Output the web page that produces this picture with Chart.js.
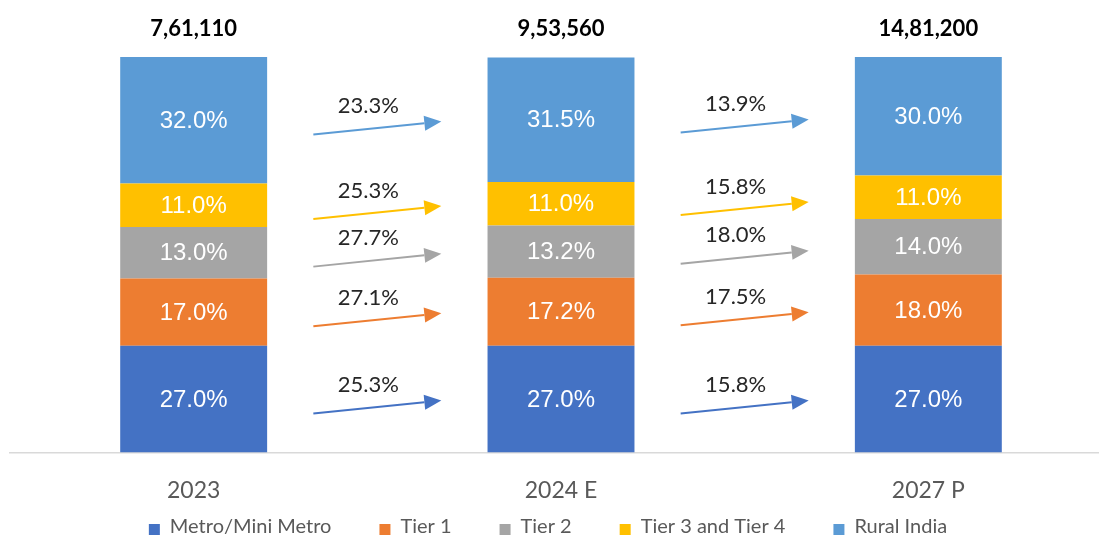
<!DOCTYPE html>
<html>
<head>
<meta charset="utf-8">
<script src="https://cdn.jsdelivr.net/npm/chart.js@4.4.1/dist/chart.umd.min.js"></script>
<style>
  html, body { margin: 0; padding: 0; background: #fff; overflow: hidden; }
  #wrap { position: relative; width: 1120px; height: 537px; }
</style>
</head>
<body>
<div id="wrap"><canvas id="graficoShare"></canvas></div>
<script>
// categories and totals
const years = ['2023', '2024 E', '2027 P'];
const totals = ['7,61,110', '9,53,560', '14,81,200'];

// share of each city class (%), bottom to top
const metro = [27.0, 27.0, 27.0];
const tier1 = [17.0, 17.2, 18.0];
const tier2 = [13.0, 13.2, 14.0];
const tier34 = [11.0, 11.0, 11.0];
const rural = [32.0, 31.5, 30.0];

// growth between consecutive years (%)
const growthMetro = [25.3, 15.8];
const growthTier1 = [27.1, 17.5];
const growthTier2 = [27.7, 18.0];
const growthTier34 = [25.3, 15.8];
const growthRural = [23.3, 13.9];

const series = [
  { label: 'Metro/Mini Metro', data: metro, growth: growthMetro, color: '#4472C4' },
  { label: 'Tier 1', data: tier1, growth: growthTier1, color: '#ED7D31' },
  { label: 'Tier 2', data: tier2, growth: growthTier2, color: '#A5A5A5' },
  { label: 'Tier 3 and Tier 4', data: tier34, growth: growthTier34, color: '#FFC000' },
  { label: 'Rural India', data: rural, growth: growthRural, color: '#5B9BD5' }
];

// labels inside segments, totals on top, growth arrows between bars
const overlay = {
  id: 'overlay',
  afterDatasetsDraw(chart) {
    const ctx = chart.ctx;
    ctx.save();
    ctx.textAlign = 'center';
    ctx.textBaseline = 'middle';

    ctx.font = '24px "Liberation Sans"';
    ctx.fillStyle = '#ffffff';
    chart.data.datasets.forEach((ds, i) => {
      chart.getDatasetMeta(i).data.forEach((bar, j) => {
        ctx.fillText(ds.data[j].toFixed(1) + '%', bar.x, (bar.y + bar.base) / 2 + 1);
      });
    });

    ctx.font = 'bold 22px Lato';
    ctx.fillStyle = '#000000';
    const top = chart.scales.y.getPixelForValue(100);
    chart.getDatasetMeta(0).data.forEach((bar, j) => {
      ctx.fillText(totals[j], bar.x, top - 28);
    });

    chart.data.datasets.forEach((ds, i) => {
      const bars = chart.getDatasetMeta(i).data;
      for (let g = 0; g < bars.length - 1; g++) {
        const a = bars[g], b = bars[g + 1];
        const cx = (a.x + a.width / 2 + b.x - b.width / 2) / 2;
        const cy = ((a.y + a.base) / 2 + (b.y + b.base) / 2) / 2 + 8;
        const x0 = cx - 64, y0 = cy + 6.5;
        const x1 = cx + 64, y1 = cy - 6.5;
        const ang = Math.atan2(y1 - y0, x1 - x0);
        const hx = x1 - 17 * Math.cos(ang), hy = y1 - 17 * Math.sin(ang);
        const px = -Math.sin(ang) * 7.5, py = Math.cos(ang) * 7.5;

        ctx.strokeStyle = ds.backgroundColor;
        ctx.fillStyle = ds.backgroundColor;
        ctx.lineWidth = 2;
        ctx.beginPath();
        ctx.moveTo(x0, y0);
        ctx.lineTo(hx, hy);
        ctx.stroke();
        ctx.beginPath();
        ctx.moveTo(x1, y1);
        ctx.lineTo(hx + px, hy + py);
        ctx.lineTo(hx - px, hy - py);
        ctx.closePath();
        ctx.fill();

        ctx.font = '22px Lato';
        ctx.fillStyle = '#262626';
        ctx.fillText(ds.growth[g].toFixed(1) + '%', cx - 9, cy - 22);
      }
    });
    ctx.restore();
  },
  afterDraw(chart) {
    // legend row under the axis
    const ctx = chart.ctx;
    ctx.save();
    ctx.font = '20px Lato';
    ctx.textAlign = 'left';
    ctx.textBaseline = 'middle';
    const box = 11, gap = 10, spacing = 48;
    const items = chart.data.datasets.map(ds => ({
      text: ds.label,
      color: ds.backgroundColor,
      w: box + gap + ctx.measureText(ds.label).width
    }));
    const total = items.reduce((s, it) => s + it.w, 0) + spacing * (items.length - 1);
    const area = chart.chartArea;
    let x = (area.left + area.right) / 2 - 13 - total / 2;
    const y = 527;
    items.forEach(it => {
      ctx.fillStyle = it.color;
      ctx.fillRect(x, y - 3, box, box);
      ctx.fillStyle = '#595959';
      ctx.fillText(it.text, x + box + gap, y);
      x += it.w + spacing;
    });
    ctx.restore();
  }
};

new Chart(document.getElementById('graficoShare'), {
  type: 'bar',
  data: {
    labels: years,
    datasets: series.map(s => ({
      label: s.label,
      data: s.data,
      growth: s.growth,
      backgroundColor: s.color,
      borderWidth: 0,
      barPercentage: 0.4,
      categoryPercentage: 1.0
    }))
  },
  options: {
    responsive: true,
    maintainAspectRatio: false,
    animation: false,
    devicePixelRatio: 1,
    layout: {
      padding: { top: 57, left: 10, right: 8, bottom: 9 }
    },
    scales: {
      x: {
        stacked: true,
        grid: { display: false, drawTicks: false },
        border: { display: true, color: '#D9D9D9', width: 1.5 },
        ticks: {
          color: '#595959',
          padding: 24,
          font: { family: 'Lato', size: 23 }
        }
      },
      y: {
        stacked: true,
        display: false,
        min: 0,
        max: 100
      }
    },
    plugins: {
      legend: { display: false },
      tooltip: { enabled: false }
    }
  },
  plugins: [overlay]
});
</script>
</body>
</html>
